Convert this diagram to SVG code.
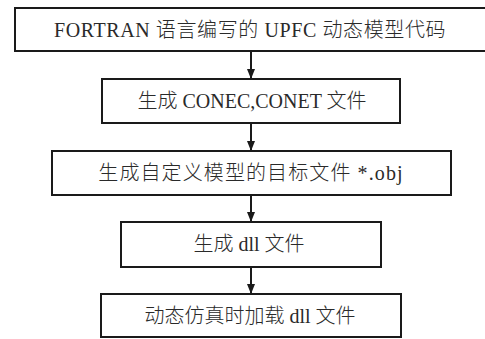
<svg xmlns="http://www.w3.org/2000/svg" width="485" height="339" viewBox="0 0 485 339">
<style>
.box{fill:#fff;stroke:#1a1a1a;stroke-width:2}
.t{font-family:"Liberation Serif","Noto Sans CJK SC",serif;font-size:20px;font-weight:300;fill:#2a2a2a;text-anchor:middle}
.c{stroke:#1a1a1a;stroke-width:2;fill:none;marker-end:url(#ah)}
</style>
<defs>
<marker id="ah" markerUnits="userSpaceOnUse" markerWidth="10" markerHeight="12" refX="10" refY="4" orient="auto">
<path d="M0,0 L10,4 L0,8 Z" fill="#1a1a1a"/>
</marker>
</defs>
<g id="connectors">
<line class="c" x1="251" y1="52" x2="251" y2="79"/>
<line class="c" x1="251" y1="124" x2="251" y2="151"/>
<line class="c" x1="251" y1="196" x2="251" y2="222"/>
<line class="c" x1="251" y1="268" x2="251" y2="294"/>
</g>
<g id="n1">
<rect class="box" x="15" y="8" width="475" height="43"/>
<text class="t" x="250" y="37" style="letter-spacing:0.6px">FORTRAN 语言编写的 UPFC 动态模型代码</text>
</g>
<g id="n2">
<rect class="box" x="102" y="79" width="298" height="44"/>
<text class="t" x="252" y="108">生成 CONEC,CONET 文件</text>
</g>
<g id="n3">
<rect class="box" x="52" y="151" width="399" height="44"/>
<text class="t" x="251" y="180" style="letter-spacing:1.1px">生成自定义模型的目标文件 *.obj</text>
</g>
<g id="n4">
<rect class="box" x="121" y="222" width="260" height="45"/>
<text class="t" x="249" y="251">生成 dll 文件</text>
</g>
<g id="n5">
<rect class="box" x="101" y="294" width="300" height="43"/>
<text class="t" x="250" y="323">动态仿真时加载 dll 文件</text>
</g>
</svg>
